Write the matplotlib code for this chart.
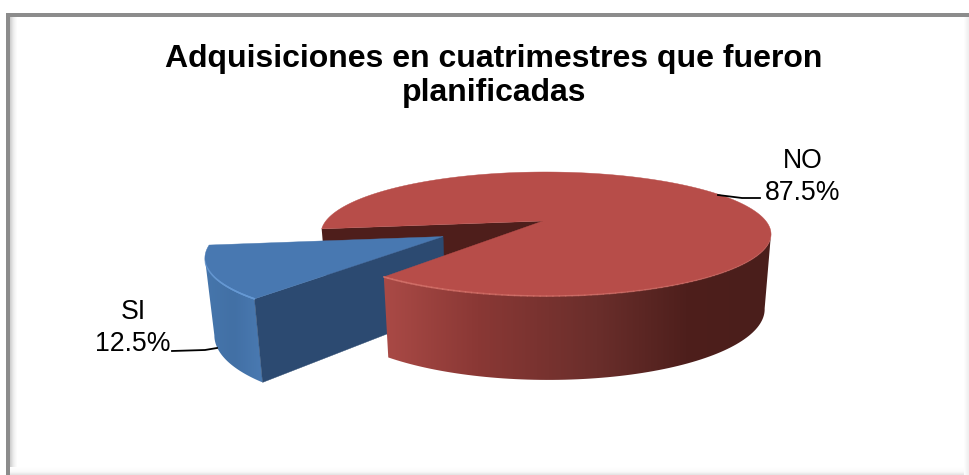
import numpy as np
import matplotlib
matplotlib.use("Agg")
import matplotlib.pyplot as plt
from matplotlib.patches import Polygon, Rectangle
from matplotlib.collections import LineCollection
from matplotlib.colors import LinearSegmentedColormap

plt.rcParams["font.family"] = ["Liberation Sans", "DejaVu Sans"]

# Chart content
title = "Adquisiciones en cuatrimestres que fueron\nplanificadas"
categories = ["SI", "NO"]
percentages = [12.5, 87.5]

# 3D pie geometry, in figure pixels
CX, CY = 543.0, 221.0
RX, RY = 220.0, 59.3
PERSP_V, PERSP_U = 0.21, -0.013
START_ANGLE = 187.5
EXPLODE = 0.5

fig = plt.figure(figsize=(9.69, 4.75), dpi=100, facecolor="white")
ax = fig.add_axes([0, 0, 1, 1])


def project(u, v, z=0.0):
    """Map pie-plane coordinates to the screen; z=1 is the bottom face."""
    u, v = np.asarray(u, float), np.asarray(v, float)
    w = 1 + PERSP_V * v + PERSP_U * u
    x = RX * u / w
    y = -RY * v / w + z * (29.4 + 43.0 / w)
    return CX + x * (1 - 0.028 * z), CY + y


def rim(a0, a1, ox=0.0, oy=0.0, z=0.0, n=240):
    t = np.radians(np.linspace(a0, a1, n))
    return np.column_stack(project(ox + np.cos(t), oy + np.sin(t), z))


def point(u, v, z=0.0):
    return np.array(project(u, v, z), float).reshape(1, 2)


def gradient_fill(pts, stops, zorder, vertical=False):
    """Fill a polygon with a colour ramp along x (or y)."""
    cmap = LinearSegmentedColormap.from_list("ramp", [(p, np.array(c) / 255) for p, c in stops])
    lo, hi = pts[:, 0].min(), pts[:, 0].max()
    ylo, yhi = pts[:, 1].min(), pts[:, 1].max()
    ramp = np.linspace(0, 1, 512).reshape(1, -1)
    if vertical:
        ramp = ramp.T
    im = ax.imshow(ramp, cmap=cmap, extent=(lo, hi, yhi, ylo), aspect="auto",
                   zorder=zorder, interpolation="bilinear", vmin=0, vmax=1)
    clip = Polygon(pts, closed=True, transform=ax.transData, fc="none", ec="none")
    ax.add_patch(clip)
    im.set_clip_path(clip)


def highlight(pts, color, alpha0, alpha1, lw, zorder):
    segs = np.stack([pts[:-1], pts[1:]], axis=1)
    alphas = np.linspace(alpha0, alpha1, len(segs))
    cols = [(*color, a) for a in alphas]
    ax.add_collection(LineCollection(segs, colors=cols, linewidths=lw, zorder=zorder, capstyle="round"))


# Slice angles come straight from the percentages
sweep_si = 360.0 * percentages[0] / sum(percentages)
si_a0, si_a1 = START_ANGLE, START_ANGLE + sweep_si
no_a0, no_a1 = si_a1, START_ANGLE + 360.0

mid = np.radians((si_a0 + si_a1) / 2)
ox, oy = EXPLODE * np.cos(mid), EXPLODE * np.sin(mid)

RED_TOP = "#B74D49"
RED_INNER = "#4E1E1B"
BLUE_TOP = "#4878B1"
BLUE_INNER = "#2C4A71"

# Inner wall of the gap, seen behind the pulled-out slice
edge = rim(si_a0, si_a0, n=1)
inner = np.vstack([point(0, 0), edge, rim(si_a0, si_a0, z=1, n=1), point(0, 0, 1)])
ax.add_patch(Polygon(inner, closed=True, fc=RED_INNER, ec="none", zorder=2))

# Pulled-out SI slice: curved wall, cut wall, top face
top_si = rim(si_a0, si_a1, ox, oy)
left_i = int(np.argmin(top_si[:, 0]))
bot_si = rim(si_a0, si_a1, ox, oy, z=1)
wall_si = np.vstack([top_si[left_i:], bot_si[left_i:][::-1]])
gradient_fill(wall_si, [(0, (70, 118, 172)), (0.5, (66, 112, 165)), (1, (74, 122, 178))], 3)

cut_si = np.vstack([point(ox, oy), top_si[-1:], bot_si[-1:], point(ox, oy, 1)])
ax.add_patch(Polygon(cut_si, closed=True, fc=BLUE_INNER, ec=BLUE_INNER, lw=0.3, zorder=4))

face_si = np.vstack([point(ox, oy), top_si])
ax.add_patch(Polygon(face_si, closed=True, fc=BLUE_TOP, ec=BLUE_TOP, lw=0.3, zorder=5))
highlight(top_si[left_i:], (0.40, 0.60, 0.83), 0.0, 0.9, 1.2, 6)

# NO slice: curved wall and top face
top_no = rim(no_a0, no_a1)
bot_no = rim(no_a0, no_a1, z=1)
right_i = int(np.argmax(top_no[:, 0]))
wall_no = np.vstack([top_no[:right_i + 1], bot_no[:right_i + 1][::-1]])
gradient_fill(wall_no, [(0, (170, 74, 70)), (0.24, (138, 56, 53)),
                        (0.55, (106, 46, 43)), (0.78, (78, 31, 28)), (1, (74, 30, 27))], 7)

face_no = np.vstack([point(0, 0), top_no])
ax.add_patch(Polygon(face_no, closed=True, fc=RED_TOP, ec=RED_TOP, lw=0.3, zorder=8))
highlight(top_no[:right_i + 1], (0.84, 0.45, 0.42), 0.85, 0.0, 1.2, 9)

# Leader lines and data labels
ax.plot([718, 742, 760], [195, 198, 198], color="black", lw=1.3, zorder=10)
ax.plot([172, 205, 217], [351, 350, 348], color="black", lw=1.3, zorder=10)
ax.text(803, 177.5, f"{categories[1]}\n{percentages[1]:.1f}%", ha="center", va="center",
        fontsize=19.2, color="black", linespacing=1.3, zorder=11)
ax.text(133, 328, f"{categories[0]}\n{percentages[0]:.1f}%", ha="center", va="center",
        fontsize=19.2, color="black", linespacing=1.3, zorder=11)

# Title
ax.text(494, 76, title, ha="center", va="center", fontsize=23.0, fontweight="bold",
        color="black", linespacing=1.14, zorder=11)

# Chart frame: grey top and left bars, soft shadow along each inner edge
gradient_fill(np.array([[10, 16], [17, 16], [17, 475], [10, 475]], float),
              [(0, (205, 205, 205)), (0.5, (238, 238, 238)), (1, (255, 255, 255))], 1)
gradient_fill(np.array([[10, 467], [969, 467], [969, 475], [10, 475]], float),
              [(0, (255, 255, 255)), (0.6, (250, 250, 250)), (1, (225, 225, 225))], 1, vertical=True)
gradient_fill(np.array([[964, 16], [969, 16], [969, 475], [964, 475]], float),
              [(0, (255, 255, 255)), (1, (238, 238, 238))], 1)
ax.add_patch(Rectangle((6, 13), 963, 3.7, fc="#8C8C8C", ec="none", zorder=1.5))
ax.add_patch(Rectangle((6, 13), 4, 462, fc="#8C8C8C", ec="none", zorder=1.5))

ax.set_xlim(0, 969)
ax.set_ylim(475, 0)
ax.axis("off")
fig.savefig("out.png", dpi=100, facecolor="white")
